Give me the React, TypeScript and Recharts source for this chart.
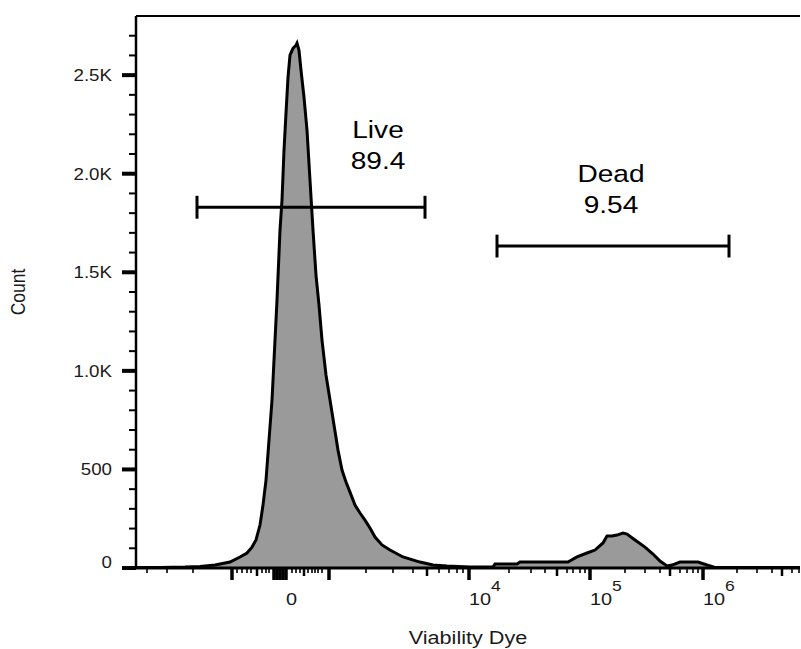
import {
  Area,
  ComposedChart,
  Label,
  ReferenceDot,
  ReferenceLine,
  XAxis,
  YAxis,
} from "recharts";

// display channel (biexponential scale, 0..664) and event counts
const channel = [
  0, 24, 49, 64, 79, 94, 104, 111, 116, 120, 124, 127, 130, 133, 136, 139, 141,
  144, 146, 148, 150, 152, 154, 157, 160, 161, 163, 165, 168, 171, 174, 177, 180,
  183, 186, 190, 194, 198, 202, 206, 210, 214, 219, 224, 229, 234, 239, 246, 254,
  267, 284, 297, 311, 334, 357, 359, 381, 384, 432, 441, 451, 459, 467, 471, 476,
  481, 487, 491, 499, 509, 517, 524, 531, 536, 544, 562, 571, 579, 664,
];
const counts = [
  3, 3, 5, 8, 15, 30, 56, 76, 106, 142, 218, 319, 446, 649, 852, 1156, 1359,
  1714, 1866, 2119, 2307, 2489, 2601, 2636, 2652, 2662, 2626, 2525, 2388, 2221,
  1967, 1714, 1486, 1333, 1156, 979, 852, 725, 598, 497, 436, 385, 319, 279, 243,
  203, 157, 117, 91, 56, 30, 15, 10, 5, 5, 20, 20, 30, 30, 56, 76, 91, 127, 162,
  162, 167, 177, 172, 142, 106, 71, 35, 10, 15, 30, 30, 15, 3, 3,
];

const xMajor = [96, 138, 141, 144, 147, 150, 193, 333, 454, 567];
const xMedium = [121, 168, 291, 421, 534, 646];
const xMinor = [
  11, 31, 57, 101, 106, 111, 115, 126, 130, 133, 156, 160, 164, 172, 176, 179,
  182, 186, 230, 257, 277, 303, 313, 321, 327, 373, 395, 409, 431, 437, 444, 449,
  489, 509, 524, 544, 551, 557, 562, 601, 621, 636, 656, 663,
];
const xLabelTicks = [150, 333, 454, 567];
const xLabelBase = ["0", "10", "10", "10"];
const xLabelExp = ["", "4", "5", "6"];

const yMajor = [0, 500, 1000, 1500, 2000, 2500];
const yLabels = ["0", "500", "1.0K", "1.5K", "2.0K", "2.5K"];
const yMinor = [
  100, 200, 300, 400, 600, 700, 800, 900, 1100, 1200, 1300, 1400, 1600, 1700,
  1800, 1900, 2100, 2200, 2300, 2400, 2600, 2700,
];

const gateNames = ["Live", "Dead"];
const gateFreqs = ["89.4", "9.54"];
const gateFrom = [61, 361];
const gateTo = [289, 593];
const gateLevel = [1830, 1633];
const gateLabelX = [242, 475];
const gateLabelY = [2180, 1957];
const capHalf = 58;

const FONT = "'Liberation Sans', Arial, sans-serif";
const SX = 1.17;

const data = channel.map((c, i) => ({ ch: c, count: counts[i] }));
const xTicks = [...xMajor, ...xMedium, ...xMinor].sort((a, b) => a - b);
const yTicks = [...yMajor, ...yMinor].sort((a, b) => a - b);

function XTick(props: any) {
  const { x, y, payload } = props;
  const v = payload.value;
  const major = xMajor.includes(v);
  const medium = xMedium.includes(v);
  const len = major ? 12 : medium ? 8 : 5;
  const w = major ? 3.5 : medium ? 2.5 : 1.6;
  const li = xLabelTicks.indexOf(v);
  return (
    <g>
      <line x1={x} x2={x} y1={y} y2={y + len} stroke="#000" strokeWidth={w} />
      {li >= 0 && (
        <g transform={`translate(${x},${y + 37}) scale(${SX},1)`}>
          <text x={0} y={0} fill="#1a1a1a" fontSize={17} fontFamily={FONT}>
            {xLabelBase[li]}
            {xLabelExp[li] && (
              <tspan dy={-14} fontSize={15}>
                {xLabelExp[li]}
              </tspan>
            )}
          </text>
        </g>
      )}
    </g>
  );
}

function YTick(props: any) {
  const { x, y, payload } = props;
  const v = payload.value;
  const major = yMajor.includes(v);
  return (
    <line
      x1={x - (major ? 14 : 7)}
      x2={x}
      y1={y}
      y2={y}
      stroke="#000"
      strokeWidth={major ? 4 : 2}
    />
  );
}

// y tick labels, placed on the value axis like the gate labels
function YLabel(i: number) {
  return (p: any) => (
    <g transform={`translate(${p.cx - 24},${p.cy + (i === 0 ? 0 : 6)}) scale(${SX},1)`}>
      <text x={0} y={0} textAnchor="end" fontSize={16} fill="#1a1a1a" fontFamily={FONT}>
        {yLabels[i]}
      </text>
    </g>
  );
}

function GateLabel(i: number) {
  return (p: any) => (
    <g transform={`translate(${p.cx},${p.cy}) scale(${SX},1)`}>
      <text x={0} y={0} textAnchor="middle" fontSize={24} fill="#000" fontFamily={FONT}>
        {gateNames[i]}
      </text>
      <text x={0} y={31} textAnchor="middle" fontSize={24} fill="#000" fontFamily={FONT}>
        {gateFreqs[i]}
      </text>
    </g>
  );
}

export default function App() {
  return (
    <div style={{ position: "absolute", left: 0, top: 0, background: "#fff" }}>
      <ComposedChart
        width={801}
        height={649}
        data={data}
        margin={{ top: 16, right: 1, bottom: 0, left: 0 }}
      >
        <XAxis
          dataKey="ch"
          type="number"
          domain={[0, 664]}
          ticks={xTicks}
          interval={0}
          height={81}
          tickSize={0}
          tickMargin={0}
          tickLine={false}
          axisLine={{ stroke: "#000", strokeWidth: 3 }}
          tick={<XTick />}
        >
          <Label
            content={(p: any) => {
              const vb = p.viewBox;
              return (
                <g transform={`translate(${vb.x + vb.width / 2},${vb.y + 76}) scale(${SX},1)`}>
                  <text x={0} y={0} textAnchor="middle" fontSize={18.5} fill="#1a1a1a" fontFamily={FONT}>
                    Viability Dye
                  </text>
                </g>
              );
            }}
          />
        </XAxis>
        <YAxis
          type="number"
          domain={[0, 2800]}
          ticks={yTicks}
          interval={0}
          width={136}
          tickSize={0}
          tickMargin={0}
          tickLine={false}
          axisLine={{ stroke: "#000", strokeWidth: 2.5 }}
          tick={<YTick />}
        >
          <Label
            content={(p: any) => {
              const vb = p.viewBox;
              return (
                <g transform={`translate(25,${vb.y + vb.height / 2}) scale(${SX},1) rotate(-90)`}>
                  <text x={0} y={0} textAnchor="middle" fontSize={17.5} fill="#1a1a1a" fontFamily={FONT}>
                    Count
                  </text>
                </g>
              );
            }}
          />
        </YAxis>
        <ReferenceLine y={2800} stroke="#000" strokeWidth={2} />
        <Area
          type="linear"
          dataKey="count"
          stroke="#000"
          strokeWidth={3}
          fill="#9a9a9a"
          fillOpacity={1}
          dot={false}
          activeDot={false}
          isAnimationActive={false}
        />
        {gateNames.map((g, i) => (
          <ReferenceLine
            key={g + "h"}
            segment={[
              { x: gateFrom[i], y: gateLevel[i] },
              { x: gateTo[i], y: gateLevel[i] },
            ]}
            stroke="#000"
            strokeWidth={3}
          />
        ))}
        {gateNames.map((g, i) => (
          <ReferenceLine
            key={g + "l"}
            segment={[
              { x: gateFrom[i], y: gateLevel[i] - capHalf },
              { x: gateFrom[i], y: gateLevel[i] + capHalf },
            ]}
            stroke="#000"
            strokeWidth={3}
          />
        ))}
        {gateNames.map((g, i) => (
          <ReferenceLine
            key={g + "r"}
            segment={[
              { x: gateTo[i], y: gateLevel[i] - capHalf },
              { x: gateTo[i], y: gateLevel[i] + capHalf },
            ]}
            stroke="#000"
            strokeWidth={3}
          />
        ))}
        {gateNames.map((g, i) => (
          <ReferenceDot
            key={g + "t"}
            x={gateLabelX[i]}
            y={gateLabelY[i]}
            r={0}
            shape={GateLabel(i)}
          />
        ))}
        {yMajor.map((v, i) => (
          <ReferenceDot
            key={"yl" + v}
            x={0}
            y={v}
            r={0}
            ifOverflow="visible"
            shape={YLabel(i)}
          />
        ))}
      </ComposedChart>
    </div>
  );
}
